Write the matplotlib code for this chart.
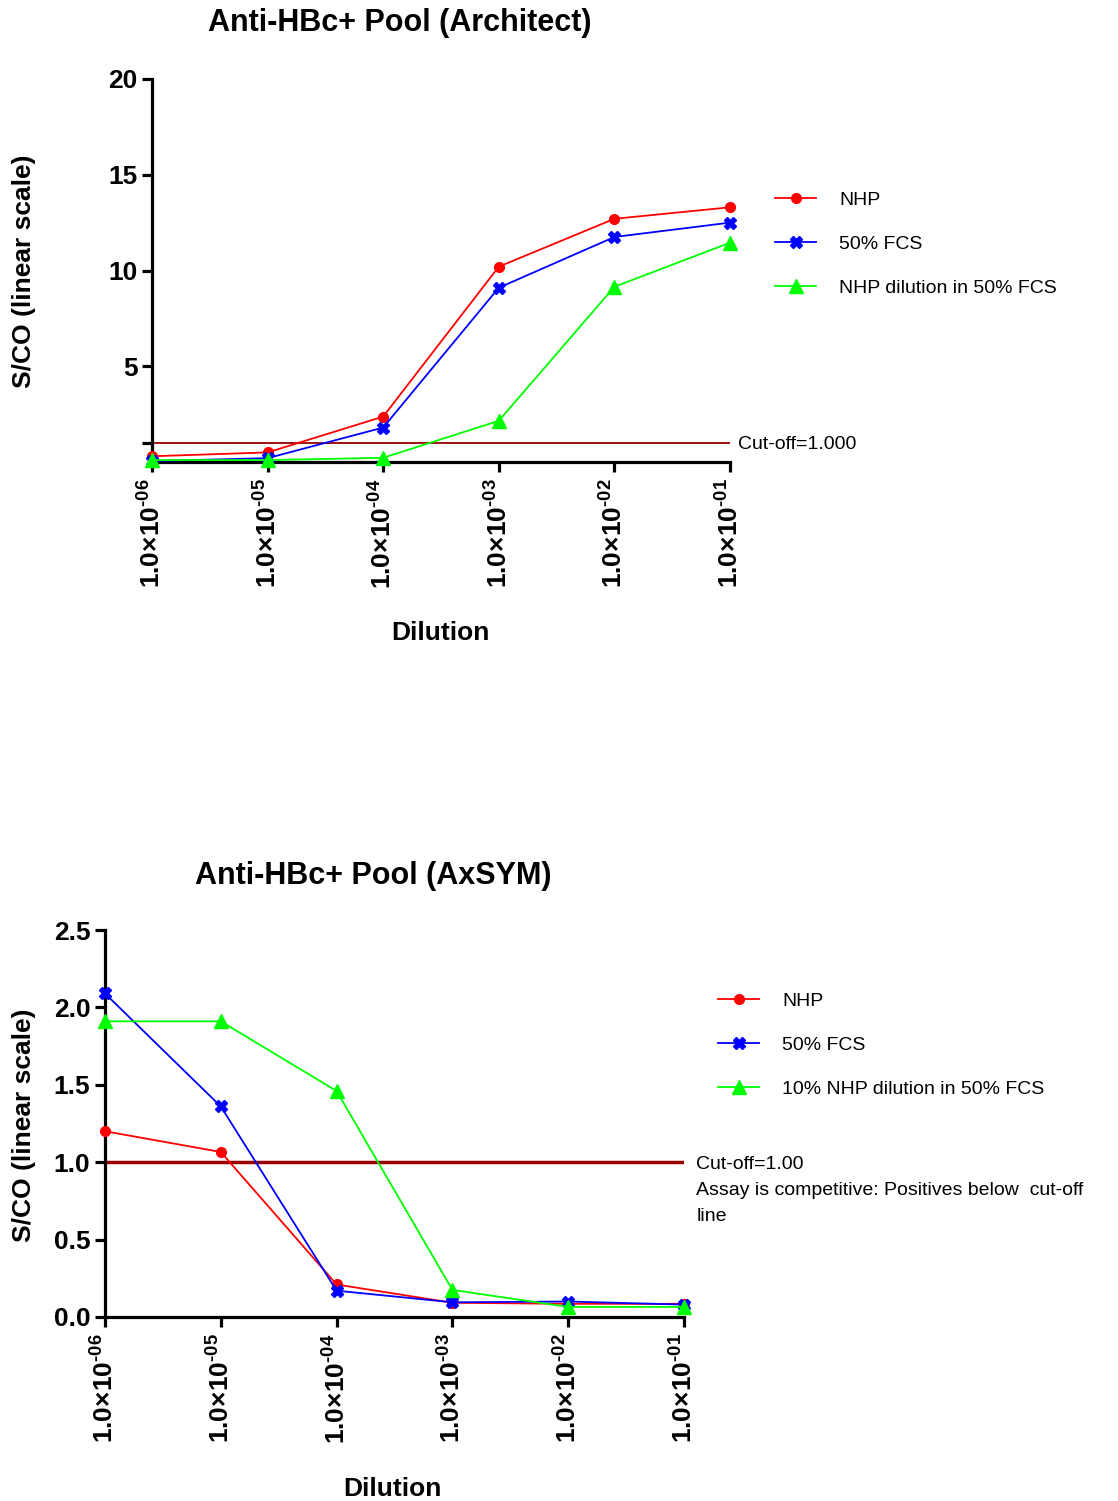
import matplotlib
matplotlib.use("Agg")
import matplotlib.pyplot as plt
import matplotlib.transforms as mtransforms

plt.rcParams["font.family"] = ["Liberation Sans", "DejaVu Sans"]
plt.rcParams["mathtext.fontset"] = "custom"
plt.rcParams["mathtext.rm"] = "Liberation Sans:bold"
plt.rcParams["mathtext.bf"] = "Liberation Sans:bold"
plt.rcParams["mathtext.it"] = "Liberation Sans:italic"

# ---- data ----
dilutions = [1e-6, 1e-5, 1e-4, 1e-3, 1e-2, 1e-1]
dilution_labels = ["-06", "-05", "-04", "-03", "-02", "-01"]

# Architect
arch_nhp = [0.30, 0.50, 2.37, 10.2, 12.7, 13.3]
arch_fcs = [0.05, 0.20, 1.80, 9.1, 11.75, 12.5]
arch_mix = [0.10, 0.10, 0.22, 2.15, 9.15, 11.45]
arch_cutoff = 1.0

# AxSYM
axsym_nhp = [1.20, 1.066, 0.21, 0.092, 0.085, 0.085]
axsym_fcs = [2.09, 1.36, 0.17, 0.095, 0.10, 0.08]
axsym_mix = [1.91, 1.91, 1.46, 0.175, 0.065, 0.065]
axsym_cutoff = 1.0

RED = "#FF0000"
BLUE = "#0000FF"
GREEN = "#00FF00"
CUT = "#990000"

W, H = 1118, 1501
fig = plt.figure(figsize=(W / 100, H / 100), dpi=100)


def px_axes(left, top, right, bottom):
    return fig.add_axes([left / W, 1 - bottom / H, (right - left) / W, (bottom - top) / H])


def style_axes(ax):
    for s in ["top", "right"]:
        ax.spines[s].set_visible(False)
    for s in ["left", "bottom"]:
        ax.spines[s].set_linewidth(2.3)
    ax.tick_params(axis="both", which="major", length=7, width=2.3, direction="out")
    ax.tick_params(axis="both", which="minor", length=0)
    ax.set_xscale("log")
    ax.set_xlim(dilutions[0], dilutions[-1])
    ax.set_xticks(dilutions)
    ax.set_xticklabels([r"$\mathbf{1.0{\times}10^{\text{%s}}}$" % e for e in dilution_labels],
                       rotation=90, fontsize=19)
    ax.tick_params(axis="x", pad=5)
    for lab in ax.get_yticklabels():
        lab.set_fontweight("bold")


def draw_series(ax, nhp, fcs, mix):
    h1, = ax.plot(dilutions, nhp, color=RED, lw=1.3, marker="o", ms=7, clip_on=False, zorder=5)
    h2, = ax.plot(dilutions, fcs, color=BLUE, lw=1.3, marker="X", ms=9, clip_on=False, zorder=5)
    h3, = ax.plot(dilutions, mix, color=GREEN, lw=1.3, marker="^", ms=10, clip_on=False, zorder=5)
    return [h1, h2, h3]


# ---------------- top chart ----------------
ax1 = px_axes(152, 79, 730, 462)
handles = draw_series(ax1, arch_nhp, arch_fcs, arch_mix)
ax1.axhline(arch_cutoff, color=CUT, lw=1.3, zorder=2)
ax1.set_ylim(0, 20)
ax1.set_yticks([1, 5, 10, 15, 20])
ax1.set_yticklabels(["", "5", "10", "15", "20"], fontsize=19, fontweight="bold")
style_axes(ax1)
ax1.text(1.013, arch_cutoff - 0.1, "Cut-off=1.000",
         transform=mtransforms.blended_transform_factory(ax1.transAxes, ax1.transData),
         ha="left", va="center", fontsize=14)
ax1.legend(handles, ["NHP", "50% FCS", "NHP dilution in 50% FCS"], loc="center left",
           bbox_to_anchor=(1.078, 0.569), frameon=False, fontsize=14, handlelength=2.1,
           handletextpad=1.2, labelspacing=1.35, borderpad=0, borderaxespad=0)
fig.text(400 / W, 1 - 23 / H, "Anti-HBc+ Pool (Architect)", ha="center", va="center",
         fontsize=22, fontweight="bold")
fig.text(24 / W, 1 - 271 / H, "S/CO (linear scale)", rotation=90, ha="center", va="center",
         fontsize=19, fontweight="bold")
fig.text(440 / W, 1 - 633 / H, "Dilution", ha="center", va="center", fontsize=19, fontweight="bold")

# ---------------- bottom chart ----------------
ax2 = px_axes(105, 930, 684, 1317)
handles = draw_series(ax2, axsym_nhp, axsym_fcs, axsym_mix)
ax2.axhline(axsym_cutoff, color=CUT, lw=2.5, zorder=2)
ax2.set_ylim(0, 2.5)
ax2.set_yticks([0, 0.5, 1.0, 1.5, 2.0, 2.5])
ax2.set_yticklabels(["0.0", "0.5", "1.0", "1.5", "2.0", "2.5"], fontsize=19, fontweight="bold")
style_axes(ax2)
ax2.text(1.021, axsym_cutoff + 0.04,
         "Cut-off=1.00\nAssay is competitive: Positives below  cut-off\nline",
         transform=mtransforms.blended_transform_factory(ax2.transAxes, ax2.transData),
         ha="left", va="top", fontsize=14, linespacing=1.68)
ax2.legend(handles, ["NHP", "50% FCS", "10% NHP dilution in 50% FCS"], loc="center left",
           bbox_to_anchor=(1.059, 0.703), frameon=False, fontsize=14, handlelength=2.1,
           handletextpad=1.2, labelspacing=1.35, borderpad=0, borderaxespad=0)
fig.text(373 / W, 1 - 876 / H, "Anti-HBc+ Pool (AxSYM)", ha="center", va="center",
         fontsize=22, fontweight="bold")
fig.text(24 / W, 1 - 1125 / H, "S/CO (linear scale)", rotation=90, ha="center", va="center",
         fontsize=19, fontweight="bold")
fig.text(392 / W, 1 - 1489 / H, "Dilution", ha="center", va="center", fontsize=19, fontweight="bold")

fig.savefig("out.png", dpi=100)
